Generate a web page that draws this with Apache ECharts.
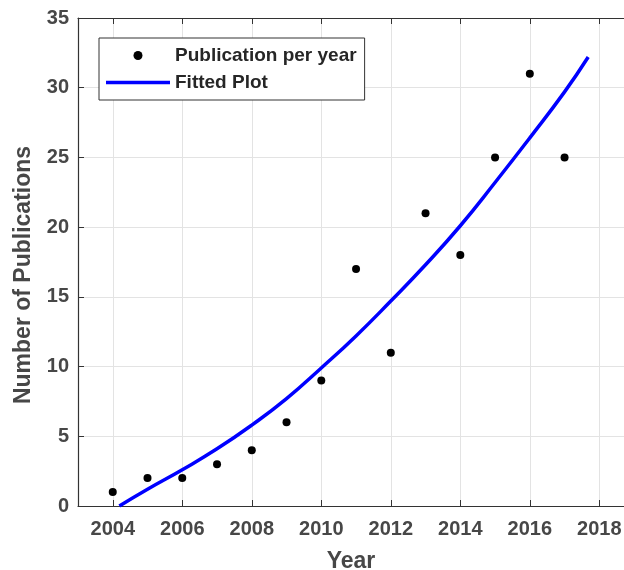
<!DOCTYPE html>
<html>
<head>
<meta charset="utf-8">
<script src="https://cdn.jsdelivr.net/npm/echarts@6/dist/echarts.min.js"></script>
<style>
html,body{margin:0;padding:0;background:#fff;}
#chart{width:624px;height:570px;}
</style>
</head>
<body>
<div id="chart"></div>
<script>
// Data
const years = [2004, 2005, 2006, 2007, 2008, 2009, 2010, 2011, 2012, 2013, 2014, 2015, 2016, 2017];
const publications = [1, 2, 2, 3, 4, 6, 9, 17, 11, 21, 18, 25, 31, 25];
const fitYears = [2004.19, 2005, 2006, 2007, 2008, 2009, 2010, 2011, 2012, 2013, 2014, 2015, 2016, 2017, 2017.68];
const fitValues = [0, 1.2, 2.6, 4.1, 5.8, 7.7, 9.9, 12.2, 14.7, 17.3, 20.1, 23.2, 26.4, 29.7, 32.2];
const xTickValues = [2004, 2006, 2008, 2010, 2012, 2014, 2016, 2018];
const seriesNames = ['Publication per year', 'Fitted Plot'];
const xTitle = 'Year';
const yTitle = 'Number of Publications';

const FONT = '"Liberation Sans", Arial, Helvetica, sans-serif';
const axisColor = '#333333';
const labelColor = '#474747';
const gridColor = '#e3e3e3';

const chart = echarts.init(document.getElementById('chart'), null, {renderer: 'canvas'});

const scatterData = years.map((y, i) => [y, publications[i]]);
const fitData = fitYears.map((y, i) => [y, fitValues[i]]);

const option = {
  animation: false,
  backgroundColor: '#ffffff',
  textStyle: {fontFamily: FONT},
  grid: {left: 78, top: 18, right: 0, bottom: 64, containLabel: false, outerBoundsMode: 'none'},
  legend: {
    orient: 'vertical',
    left: 99,
    top: 38,
    padding: [8, 8, 8, 7],
    itemWidth: 64,
    itemHeight: 9,
    itemGap: 8,
    itemTextGap: 6,
    symbolKeepAspect: true,
    borderColor: '#333333',
    borderWidth: 1,
    backgroundColor: '#ffffff',
    textStyle: {fontFamily: FONT, fontSize: 19, fontWeight: 'bold', color: '#262626', lineHeight: 18},
    data: [
      {name: seriesNames[0], icon: 'circle'},
      {name: seriesNames[1], icon: 'path://M0,0L64,0L64,3.5L0,3.5Z'}
    ]
  },
  xAxis: [
    {
      type: 'value',
      position: 'bottom',
      min: 2003,
      max: 2018.71,
      name: xTitle,
      nameLocation: 'middle',
      nameGap: 44,
      nameTextStyle: {fontFamily: FONT, fontSize: 23, fontWeight: 'bold', color: labelColor},
      axisLine: {show: true, onZero: false, lineStyle: {color: axisColor, width: 1.2}},
      axisTick: {show: true, inside: true, length: 6, customValues: xTickValues, lineStyle: {color: axisColor, width: 1}},
      axisLabel: {show: true, customValues: xTickValues, margin: 13, fontFamily: FONT, fontSize: 20, fontWeight: 'bold', color: labelColor,
        formatter: v => String(v)},
      splitLine: {show: true, lineStyle: {color: gridColor, width: 1}}
    },
    {
      type: 'value',
      position: 'top',
      min: 2003,
      max: 2018.71,
      axisLine: {show: true, onZero: false, lineStyle: {color: axisColor, width: 1.2}},
      axisTick: {show: true, inside: true, length: 6, customValues: xTickValues, lineStyle: {color: axisColor, width: 1}},
      axisLabel: {show: false},
      splitLine: {show: false}
    }
  ],
  yAxis: {
    type: 'value',
    min: 0,
    max: 35,
    interval: 5,
    name: yTitle,
    nameLocation: 'middle',
    nameGap: 43,
    nameTextStyle: {fontFamily: FONT, fontSize: 23, fontWeight: 'bold', color: labelColor, padding: [0, 26, 0, 0]},
    axisLine: {show: true, onZero: false, lineStyle: {color: axisColor, width: 1.2}},
    axisTick: {show: true, inside: true, length: 6, lineStyle: {color: axisColor, width: 1}},
    axisLabel: {margin: 9, fontFamily: FONT, fontSize: 20, fontWeight: 'bold', color: labelColor},
    splitLine: {show: true, lineStyle: {color: gridColor, width: 1}}
  },
  series: [
    {
      name: seriesNames[0],
      type: 'scatter',
      xAxisIndex: 0,
      data: scatterData,
      symbol: 'circle',
      symbolSize: 8,
      itemStyle: {color: '#000000', opacity: 1},
      z: 3
    },
    {
      name: seriesNames[1],
      type: 'line',
      xAxisIndex: 0,
      data: fitData,
      smooth: true,
      showSymbol: false,
      symbol: 'none',
      lineStyle: {color: '#0000ff', width: 3.5},
      itemStyle: {color: '#0000ff'},
      z: 4
    }
  ]
};
chart.setOption(option);
</script>
</body>
</html>
